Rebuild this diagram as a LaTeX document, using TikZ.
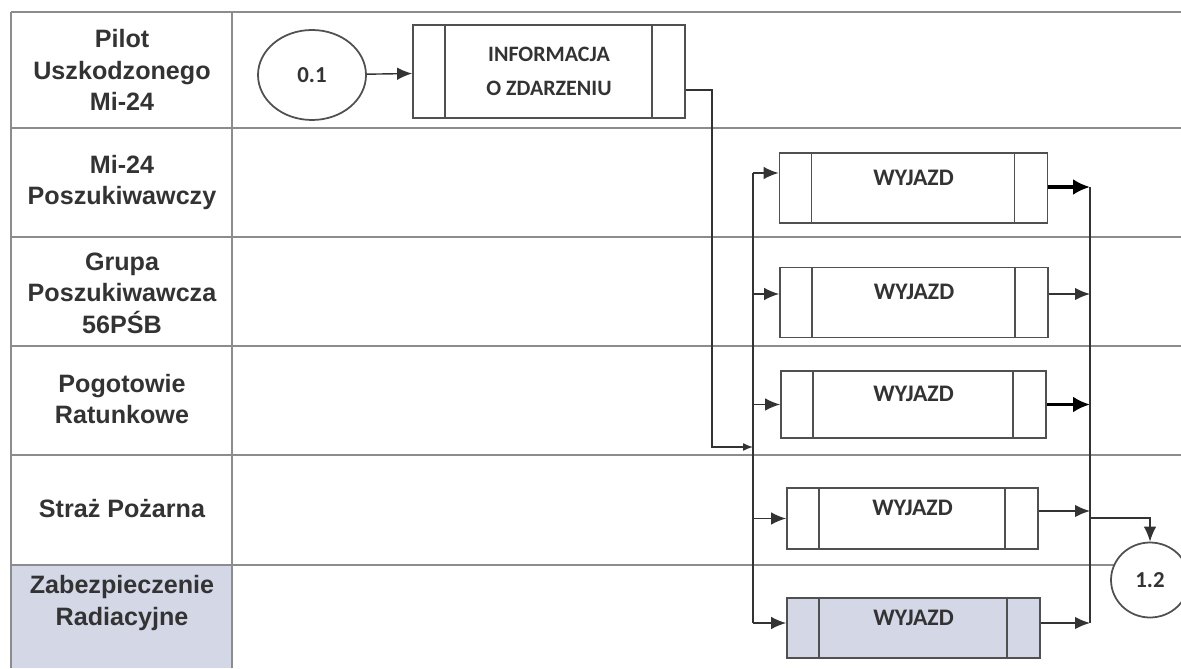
\documentclass[tikz,border=0pt]{standalone}
\usepackage{fontspec}
\setmainfont{Liberation Sans}
\newfontfamily\boxfont{Carlito}
\usepackage{xcolor}
\usepackage{tikz}
\usetikzlibrary{arrows,arrows.meta,shapes,positioning}

\definecolor{lanegray}{HTML}{8C8C8C}
\definecolor{boxgray}{HTML}{505050}
\definecolor{radfill}{HTML}{D3D7E6}
\definecolor{labeltext}{HTML}{333333}

\begin{document}
\begin{tikzpicture}[
    >={Latex[length=3mm, width=2.5mm]},
    lane/.style={draw=lanegray, line width=1pt},
    actor/.style={align=center, text=labeltext, font=\fontsize{14.3}{18}\selectfont\bfseries},
    proc/.style={rectangle, draw=boxgray, line width=1pt, fill=white,
      minimum width=5.36cm, minimum height=1.40cm, align=center,
      font=\boxfont\fontsize{12.5}{19}\selectfont\bfseries, text=labeltext,
      path picture={
        \draw[boxgray, line width=1pt] ([xshift=0.64cm]path picture bounding box.north west) -- ([xshift=0.64cm]path picture bounding box.south west);
        \draw[boxgray, line width=1pt] ([xshift=-0.66cm]path picture bounding box.north east) -- ([xshift=-0.66cm]path picture bounding box.south east);
      }},
    wyjazd/.style={proc, font=\boxfont\fontsize{13.5}{19}\selectfont\bfseries, text height=0.29cm, text depth=0.4cm},
    event/.style={ellipse, draw=boxgray, line width=1pt, fill=white, text=labeltext,
      font=\boxfont\fontsize{13}{15}\selectfont\bfseries},
    flow/.style={->, draw=black!80, line width=0.8pt},
    heavy/.style={-{Latex[length=3.4mm, width=3.2mm]}, draw=black, line width=1.8pt}
  ]
    \useasboundingbox (0,0) rectangle (23.62,13.36);
    \fill[white] (0,0) rectangle (23.62,13.36);

    % Swimlanes
    \fill[radfill] (0.22,0) rectangle (4.64,2.06);
    \foreach \y in {13.12,10.80,8.62,6.44,4.26,2.06}
      \draw[lane] (0.22,\y) -- (23.62,\y);
    \draw[lane] (0.22,0) -- (0.22,13.12);
    \draw[lane] (4.64,0) -- (4.64,13.12);

    % Lane names
    \node[actor] (a1) at (2.44,11.96) {Pilot\\Uszkodzonego\\Mi-24};
    \node[actor] (a2) at (2.44,9.71) {Mi-24\\Poszukiwawczy};
    \node[actor] (a3) at (2.44,7.50) {Grupa\\Poszukiwawcza\\56PŚB};
    \node[actor] (a4) at (2.44,5.38) {Pogotowie\\Ratunkowe};
    \node[actor] (a5) at (2.44,3.18) {Straż Pożarna};
    \node[actor] (a6) at (2.44,1.30) {Zabezpieczenie\\Radiacyjne};

    % Events and processes
    \node[event, minimum width=2.16cm, minimum height=1.80cm] (start) at (6.24,11.86) {0.1};
    \node[proc, minimum width=5.44cm, minimum height=1.86cm] (info) at (10.98,11.93) {INFORMACJA\\O ZDARZENIU};
    \node[wyjazd] (w1) at (18.27,9.60) {WYJAZD};
    \node[wyjazd] (w2) at (18.28,7.31) {WYJAZD};
    \node[wyjazd, minimum width=5.30cm, minimum height=1.34cm] (w3) at (18.27,5.27) {WYJAZD};
    \node[wyjazd, minimum width=5.02cm, minimum height=1.22cm] (w4) at (18.25,2.99) {WYJAZD};
    \node[wyjazd, minimum width=5.06cm, minimum height=1.20cm, fill=radfill] (w5) at (18.27,0.80) {WYJAZD};
    \node[event, minimum width=1.56cm, minimum height=1.50cm] (end) at (23.00,1.76) {1.2};

    % Flow
    \coordinate (split) at (14.24,4.42);
    \coordinate (bus) at (15.06,4.42);
    \coordinate (collect) at (21.80,3.00);
    \draw[flow] (start) -- (info);
    \draw[flow, -{Latex[length=2mm, width=1.6mm]}] ([yshift=-0.37cm]info.east) -| (split) -- (bus);
    \draw[flow, -] ([yshift=0.30cm]bus |- w1.west) -- ([yshift=0.10cm]bus |- w5.west);
    \foreach \b/\din in {w1/0.30, w2/0.17, w3/0, w4/0, w5/0.10}
      \draw[flow] ([yshift=\din cm]bus |- \b.west) -- ([yshift=\din cm]\b.west);
    \foreach \b/\dout/\wt in {w1/0.02/heavy, w2/0.17/flow, w3/0/heavy, w4/0.15/flow, w5/0.10/flow}
      \draw[\wt] ([yshift=\dout cm]\b.east) -- ([yshift=\dout cm]collect |- \b.east);
    \draw[flow, -] ([yshift=0.02cm]collect |- w1.east) -- ([yshift=0.10cm]collect |- w5.east);
    \draw[flow] (collect) -| (end.north);
  \end{tikzpicture}
\end{document}
